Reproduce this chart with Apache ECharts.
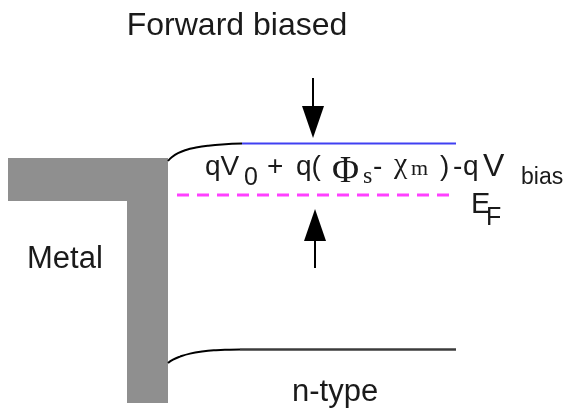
<!DOCTYPE html>
<html>
<head>
<meta charset="utf-8">
<script src="https://cdn.jsdelivr.net/npm/echarts@6/dist/echarts.min.js"></script>
<style>
html,body{margin:0;padding:0;background:#fff;}
#c{width:571px;height:410px;}
</style>
</head>
<body>
<div id="c"></div>
<script>
// Band diagram data (x, energy-position in drawing units; y grows downward)
const metalOutline = [[8,158],[168,158],[168,403],[127,403],[127,201],[8,201]];
const conductionBend = [[168,161],[172,157],[178,153.2],[186,150],[196,147.6],[208,145.7],[222,144.4],[242,143.6]];
const conductionFlat = [[242,143.6],[456,143.6]];
const valenceBend = [[168,363],[173,359.6],[180,356.6],[190,353.6],[202,351.5],[216,350.2],[230,349.7],[240,349.5]];
const valenceFlat = [[240,349.5],[456,349.5]];
const fermiLevel = [[177,195],[456,195]];
const arrowX = [313, 315];
const arrowFrom = [78, 268];
const arrowTo = [138, 209];

const chart = echarts.init(document.getElementById('c'), null, {renderer:'canvas'});
const sans = 'Liberation Sans, Arial, Helvetica, sans-serif';
const serif = 'Liberation Serif, Times New Roman, serif';
const txt = '#1a1a1a';

// place text by its alphabetic baseline
function t(text, x, baseline, size, family, align){
  const k = family === serif ? 0.3375 : 0.3465;
  return {type:'text', x:x, y:baseline - k*size,
    style:{text:text, fill:txt, font: size+'px '+(family||sans), textAlign: align||'left', textVerticalAlign:'middle'}, z:10};
}

const option = {
  animation:false,
  backgroundColor:'#fff',
  grid:{left:0,right:0,top:0,bottom:0},
  xAxis:{type:'value',min:0,max:571,show:false},
  yAxis:{type:'value',min:0,max:410,inverse:true,show:false},
  series:[
    {type:'custom', data:[metalOutline[0]], encode:{x:0,y:1},
     renderItem:(p,api)=>({type:'polygon', shape:{points:metalOutline.map(q=>api.coord(q))}, style:{fill:'#8f8f8f'}})},
    {type:'line', data:conductionBend, smooth:true, symbol:'none', lineStyle:{color:'#000',width:2}},
    {type:'line', data:conductionFlat, symbol:'none', lineStyle:{color:'#4040f2',width:2}},
    {type:'line', data:valenceBend, smooth:true, symbol:'none', lineStyle:{color:'#000',width:2}},
    {type:'line', data:valenceFlat, symbol:'none', lineStyle:{color:'#3c3c3c',width:2.5}},
    {type:'line', data:fermiLevel, symbol:'none', lineStyle:{color:'#ff40ff',width:3,type:[12,8]}},
    {type:'custom', data:arrowX.map((x,i)=>[x,arrowFrom[i],arrowTo[i]]), encode:{x:0,y:[1,2]},
     renderItem:(p,api)=>{
       const x=api.value(0), y0=api.value(1), y1=api.value(2);
       const a=api.coord([x,y0]), b=api.coord([x,y1]);
       const dir = b[1]>a[1]?1:-1, hl=32, hw=11;
       return {type:'group', children:[
         {type:'line', shape:{x1:a[0],y1:a[1],x2:b[0],y2:b[1]-dir*hl+dir*2}, style:{stroke:'#000',lineWidth:2}},
         {type:'polygon', shape:{points:[[b[0],b[1]],[b[0]-hw,b[1]-dir*hl],[b[0]+hw,b[1]-dir*hl]]}, style:{fill:'#000'}}
       ]};
     }}
  ],
  graphic:[
    t('Forward biased', 237, 37, 32, sans, 'center'),
    t('Metal', 27, 270, 31),
    t('n-type', 292, 403, 31),
    t('qV', 205, 177, 28),
    t('0', 244, 187, 25),
    t('+', 267, 177, 28),
    t('q(', 296, 177, 28),
    t('Φ', 332, 185, 37, serif),
    t('s', 363, 185, 24, serif),
    t('-', 373, 177, 28),
    t('χ', 394, 175, 30, serif),
    t('m', 411, 177, 22, serif),
    t(')', 440, 177, 28),
    t('-', 453, 177, 28),
    t('q', 463, 177, 28),
    t('V', 483, 178, 32),
    t('bias', 521, 186, 23),
    t('E', 471, 215, 29),
    t('F', 486, 227, 25)
  ]
};
chart.setOption(option);
</script>
</body>
</html>
